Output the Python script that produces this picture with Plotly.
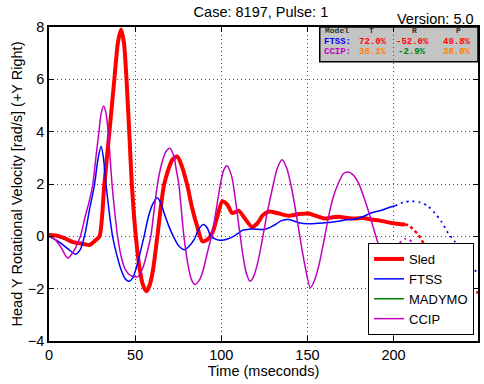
import plotly.graph_objects as go

# ---------------- data ----------------
sled_t = [0, 4, 8.5, 14, 20, 23.5, 27, 29.3, 32.1, 35, 37.9, 40, 41.8, 43.5, 45, 46.6, 48.1, 50.4, 52.7,
          54.5, 56.6, 58.5, 60.4, 62.9, 66.8, 71.6, 74.4, 77, 80.2, 83, 86, 89, 91.9, 94.8, 97.7, 100.6,
          103.5, 106.4, 110, 113.5, 117.9, 121, 124, 127.6, 133, 139, 145, 150.7, 155, 160.3, 164, 168,
          173, 177.7, 182, 187.3, 192, 198.8, 203, 206.6]
sled_v = [0.05, 0.03, -0.06, -0.22, -0.29, -0.33, -0.15, 0.0, 1.97, 3.95, 5.98, 7.4, 7.9, 7.4, 5.98, 3.95,
          1.97, 0.0, -1.27, -1.85, -2.1, -1.85, -1.27, 0.0, 1.97, 2.93, 3.05, 2.7, 1.97, 1.1, 0.38, -0.19,
          -0.13, 0.13, 0.76, 1.34, 1.21, 0.89, 0.98, 0.7, 0.36, 0.5, 0.8, 0.95, 0.88, 0.79, 0.85, 0.87, 0.78,
          0.68, 0.72, 0.75, 0.7, 0.68, 0.7, 0.64, 0.6, 0.51, 0.47, 0.45]
sled_tail_t = [206.6, 209, 211.4, 213.9, 215.6, 217.8, 219.1, 223, 230, 238, 244, 249]
sled_tail_v = [0.45, 0.41, 0.26, 0.1, -0.06, -0.32, -0.51, -0.9, -1.45, -1.9, -2.08, -2.15]

ftss_t = [0, 3, 6.6, 11.4, 15.3, 18.2, 21, 23.5, 26.4, 28.3, 30.2, 31.6, 33.1, 35, 36.9, 39.3, 41.8, 44,
          46.6, 48.5, 50.4, 53, 55.2, 57.5, 60, 62.9, 65, 67, 69.6, 72.5, 75.5, 78.7, 81.3, 84.2, 87, 89.6,
          91.9, 93.9, 97.7, 100.6, 105.4, 110.2, 112, 118, 125.6, 130, 135, 139.2, 145, 150.7, 156, 162.2,
          168, 174, 177.7, 182, 187.3, 193, 199.7, 201]
ftss_v = [0.0, -0.1, -0.25, -0.5, -0.68, -0.5, 0.13, 1.02, 1.97, 2.9, 3.44, 3.0, 1.97, 0.9, 0.0, -0.7,
          -1.27, -1.6, -1.72, -1.6, -1.27, -0.6, 0.0, 0.7, 1.2, 1.47, 1.25, 0.85, 0.38, -0.05, -0.38, -0.51,
          -0.38, -0.13, 0.28, 0.45, 0.32, 0.0, -0.13, -0.15, -0.06, 0.13, 0.22, 0.28, 0.27, 0.4, 0.6, 0.64,
          0.52, 0.48, 0.5, 0.53, 0.58, 0.64, 0.66, 0.75, 0.9, 1.0, 1.15, 1.17]
ftss_tail_t = [201, 205.7, 210.4, 215.3, 220, 223.9, 227.7, 231.6, 235.4, 239.3, 243, 247, 249]
ftss_tail_v = [1.17, 1.3, 1.34, 1.3, 1.15, 0.89, 0.57, 0.13, -0.19, -0.51, -0.9, -1.27, -1.45]

madymo_t = [None]
madymo_v = [None]

ccip_t = [0, 3, 6.6, 10.8, 14.3, 18.2, 21, 23.2, 25.4, 27.2, 28.9, 30.3, 31.7, 33.1, 34.4, 35.5, 36.6, 38.2,
          39.8, 42, 44.3, 47.5, 51.4, 54.5, 57, 59.1, 61, 62.9, 65.5, 68, 70.2, 72.5, 74, 75.4, 78.3, 81.2,
          83, 84.7, 87, 89, 92, 94.8, 97.5, 99.6, 101.5, 103.3, 106, 108, 110.2, 112.5, 114.5, 116.7, 119,
          121.5, 123.8, 126.5, 129.5, 132.5, 135.3, 138, 141, 143.5, 145.9, 148.5, 151.7, 154, 156.5, 159.5,
          162.3, 165, 168, 171, 173.8, 176.5, 179.6, 183, 186.4, 189.5, 193, 196.5, 199.5, 201.5, 203.5]
ccip_v = [0, -0.1, -0.38, -0.83, -0.57, 0, 0.76, 1.3, 1.97, 3.0, 3.95, 4.7, 4.98, 4.7, 3.95, 3.0, 1.97, 0.9,
          0.0, -0.8, -1.27, -1.5, -1.55, -1.2, -0.6, 0.0, 1.0, 1.97, 2.8, 3.25, 3.37, 3.05, 2.5, 1.97, 0.0,
          -1.27, -1.7, -1.84, -1.7, -1.4, -0.6, 0.13, 1.2, 2.04, 2.55, 2.7, 2.3, 1.5, 0.4, -0.7, -1.4, -1.72,
          -1.5, -0.9, -0.13, 0.85, 1.78, 2.6, 2.93, 2.6, 1.78, 0.85, -0.13, -1.1, -1.97, -1.7, -1.15, -0.2,
          0.76, 1.5, 2.04, 2.4, 2.46, 2.35, 2.04, 1.45, 0.76, 0.05, -0.64, -1.0, -0.62, -0.45, -0.25]
ccip_tail_t = [203.5, 206.6, 209, 211.4, 213.9, 215.6, 219, 223]
ccip_tail_v = [-0.25, -0.1, -0.12, -0.28, -0.45, -0.57, -0.85, -1.15]

x_ticks = [0, 50, 100, 150, 200]
y_ticks = [-4, -2, 0, 2, 4, 6, 8]

table_header = ["Model", "T", "R", "P"]
table_models = ["FTSS:", "CCIP:"]
table_values = [["72.0%", "-52.0%", "49.8%"], ["38.1%", "-2.9%", "38.0%"]]
table_value_colors = [["#ff0000", "#ff0000", "#ff0000"], ["#ff8000", "#008000", "#ff8000"]]

RED, BLUE, GREEN, MAG = "#ff0000", "#0000ff", "#008000", "#bf00bf"
FONT = "Liberation Sans, Arial, sans-serif"
MONO = "Liberation Mono, Courier New, monospace"
SM = 0.7

fig = go.Figure()
fig.add_trace(go.Scatter(x=sled_t, y=sled_v, mode="lines", name="Sled",
                         line=dict(color=RED, width=4, shape="spline", smoothing=SM)))
fig.add_trace(go.Scatter(x=ftss_t, y=ftss_v, mode="lines", name="FTSS",
                         line=dict(color=BLUE, width=1.5, shape="spline", smoothing=SM)))
fig.add_trace(go.Scatter(x=madymo_t, y=madymo_v, mode="lines", name="MADYMO", line=dict(color=GREEN, width=1.5)))
fig.add_trace(go.Scatter(x=ccip_t, y=ccip_v, mode="lines", name="CCIP",
                         line=dict(color=MAG, width=1.5, shape="spline", smoothing=SM)))
fig.add_trace(go.Scatter(x=sled_tail_t, y=sled_tail_v, mode="lines", showlegend=False,
                         line=dict(color=RED, width=2.5, dash="3px,3px", shape="spline", smoothing=SM)))
fig.add_trace(go.Scatter(x=ftss_tail_t, y=ftss_tail_v, mode="lines", showlegend=False,
                         line=dict(color=BLUE, width=1.8, dash="2px,4px", shape="spline", smoothing=SM)))
fig.add_trace(go.Scatter(x=ccip_tail_t, y=ccip_tail_v, mode="lines", showlegend=False,
                         line=dict(color=MAG, width=1.8, dash="2px,4px", shape="spline", smoothing=SM)))

# ---- geometry helpers (pixels -> paper) ----
L, R, T, B = 49, 4, 27, 43
PW, PH = 484 - L - R, 384 - T - B
def px(x):
    return (x - L) / PW
def py(y):
    return (384 - B - y) / PH

# table (gray box in the top-right corner)
fig.add_shape(type="rect", xref="paper", yref="paper", x0=px(321), x1=1.0, y0=py(61.7), y1=1.0,
              fillcolor="#c4c4c4", line=dict(color="black", width=1.5), layer="between")
hdr_x = [px(338), px(373), px(416), px(460)]
for hx, htxt in zip(hdr_x, table_header):
    fig.add_annotation(xref="paper", yref="paper", x=hx, y=py(30.5), text=f"<b>{htxt}</b>",
                       showarrow=False, font=dict(family=MONO, size=8, color="#303030"),
                       xanchor="center", yanchor="middle")
row_y = [py(41.7), py(52.3)]
model_colors = [BLUE, MAG]
col_x = [px(375), px(414), px(459)]
for ri, (m, vals, cols) in enumerate(zip(table_models, table_values, table_value_colors)):
    fig.add_annotation(xref="paper", yref="paper", x=px(323), y=row_y[ri], text=f"<b>{m}</b>",
                       showarrow=False, font=dict(family=MONO, size=9, color=model_colors[ri]),
                       xanchor="left", yanchor="middle")
    for cx, v, c in zip(col_x, vals, cols):
        fig.add_annotation(xref="paper", yref="paper", x=cx, y=row_y[ri], text=f"<b>{v}</b>",
                           showarrow=False, font=dict(family=MONO, size=9, color=c),
                           xanchor="center", yanchor="middle")

fig.add_annotation(xref="paper", yref="paper", x=px(478), y=py(19), text="Version: 5.0",
                   showarrow=False, font=dict(family=FONT, size=14.5, color="black"),
                   xanchor="right", yanchor="middle")

axis_common = dict(showline=True, linecolor="black", linewidth=1.5, mirror="ticks", ticks="inside",
                   ticklen=5, tickwidth=1, tickcolor="black", showgrid=True, gridcolor="#505050",
                   griddash="1px,3px", gridwidth=1, zeroline=False,
                   tickfont=dict(family=FONT, size=14.5, color="black"))

fig.update_layout(
    width=484, height=384,
    margin=dict(l=L, r=R, t=T, b=B, pad=0),
    paper_bgcolor="white", plot_bgcolor="white",
    font=dict(family=FONT, size=14.5, color="black"),
    title=dict(text="Case: 8197, Pulse: 1", x=0.494, xref="paper", xanchor="center",
               y=1 - 12 / 384, yref="container", yanchor="middle",
               font=dict(family=FONT, size=14.5, color="black")),
    xaxis=dict(range=[0, 249], tickvals=x_ticks, title=dict(text="Time (mseconds)", standoff=4,
               font=dict(family=FONT, size=14.5)), **axis_common),
    yaxis=dict(range=[-4, 8], tickvals=y_ticks,
               title=dict(text="Head Y Rotational Velocity [rad/s] (+Y Right)", standoff=2,
                          font=dict(family=FONT, size=14.5)), **axis_common),
    legend=dict(x=px(476), y=py(335), xanchor="right", yanchor="bottom", bgcolor="white",
                bordercolor="black", borderwidth=1, font=dict(family=FONT, size=13, color="black"),
                itemwidth=30, tracegroupgap=0),
    showlegend=True,
)

fig.write_html("out.html", config={"displayModeBar": False},
               post_script="document.body.style.margin='0';document.body.style.overflow='hidden';")
